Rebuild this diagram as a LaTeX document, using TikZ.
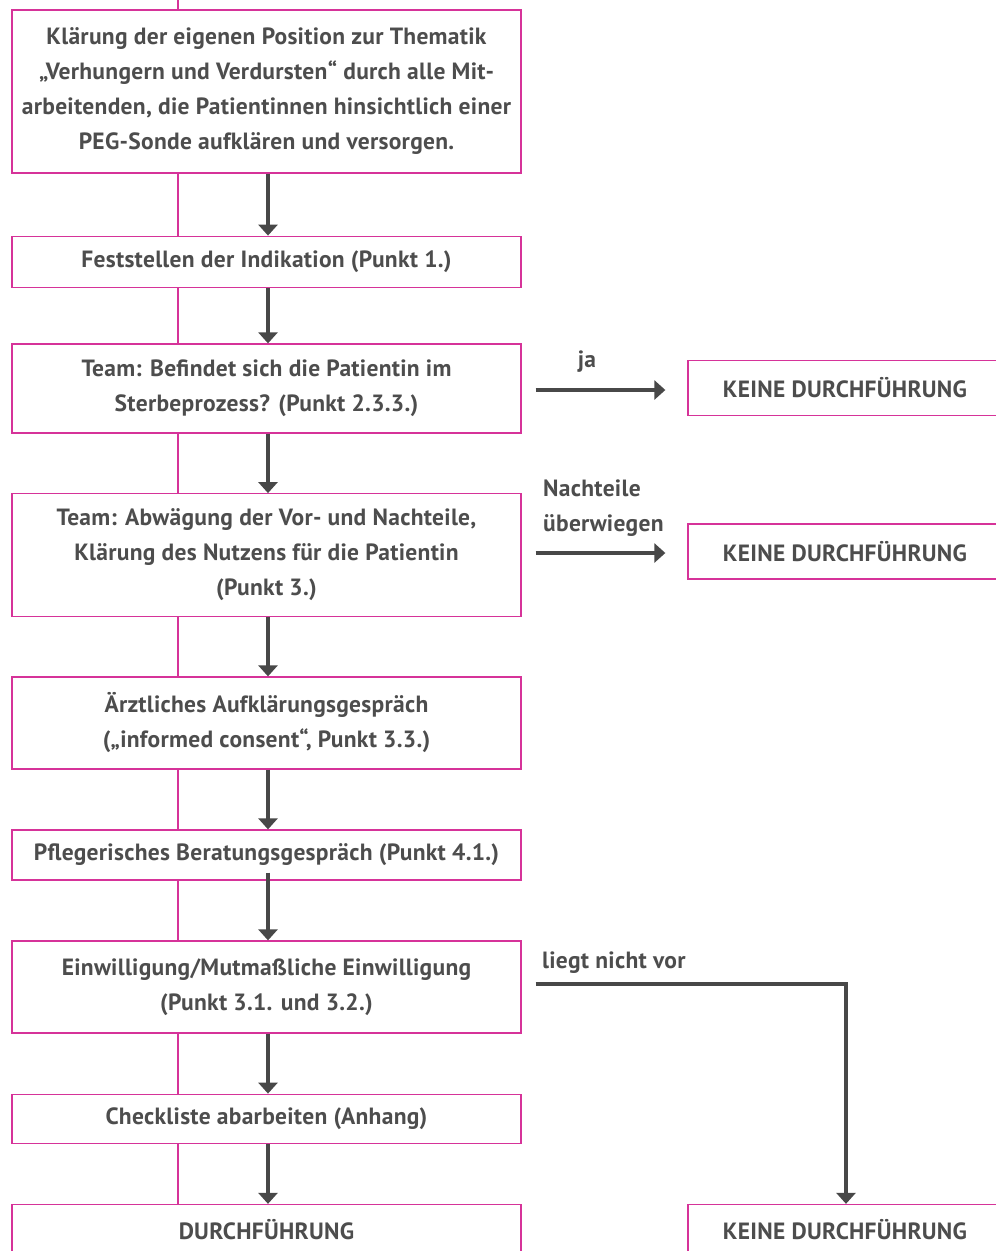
\documentclass[tikz,border=0pt]{standalone}
\usepackage{fontspec}
\setmainfont{PT Sans}[LetterSpace=1.2]
\usetikzlibrary{arrows.meta}
\definecolor{mypink}{RGB}{214,51,153}
\definecolor{txtgrey}{RGB}{77,77,77}
\definecolor{arrgrey}{RGB}{72,72,72}
\tikzset{
  box/.style={draw=mypink, line width=1.3pt, fill=white, minimum width=509pt,
    inner sep=0pt, align=center, text=txtgrey,
    font=\bfseries\fontsize{23.5}{35}\selectfont},
  rbox/.style={box, minimum width=314pt},
  lbl/.style={inner sep=0pt, text=txtgrey, align=left,
    font=\bfseries\fontsize{23.5}{35}\selectfont},
  arr/.style={draw=arrgrey, line width=3.1pt, -{Triangle[width=19pt,length=11pt]}},
  pinkline/.style={draw=mypink, line width=1.3pt}
}
\begin{document}
\begin{tikzpicture}[x=1pt,y=-1pt]
\useasboundingbox (0,0) rectangle (996,1251);
\clip (0,0) rectangle (996,1251);
\fill[white] (0,0) rectangle (996,1251);
\coordinate (top) at (178,-2);
\coordinate (bot) at (178,1210);
\draw[pinkline] (top) -- (bot);

\node[box, minimum height=163pt] (b1) at (266.5,91.5)
  {Klärung der eigenen Position zur Thematik\\
   „Verhungern und Verdursten“ durch alle Mit-\\
   arbeitenden, die Patientinnen hinsichtlich einer\\
   PEG-Sonde aufklären und versorgen.};
\node[box, minimum height=51.5pt] (b2) at (266.5,262) {Feststellen der Indikation (Punkt 1.)};
\node[box, minimum height=89pt] (b3) at (266.5,388.5)
  {Team: Befindet sich die Patientin im\\ Sterbeprozess? (Punkt 2.3.3.)};
\node[box, minimum height=122.5pt] (b4) at (266.5,555)
  {Team: Abwägung der Vor- und Nachteile,\\ Klärung des Nutzens für die Patientin\\ (Punkt 3.)};
\node[box, minimum height=92pt] (b5) at (266.5,723)
  {Ärztliches Aufklärungsgespräch\\ („informed consent“, Punkt 3.3.)};
\node[box, minimum height=50pt] (b6) at (266.5,855) {Pflegerisches Beratungsgespräch (Punkt 4.1.)};
\node[box, minimum height=92pt] (b7) at (266.5,987)
  {Einwilligung/Mutmaßliche Einwilligung\\ (Punkt 3.1. und 3.2.)};
\node[box, minimum height=49.5pt] (b8) at (266.5,1119) {Checkliste abarbeiten (Anhang)};
\node[box, minimum height=50pt] (b9) at (266.5,1229.5) {DURCHFÜHRUNG};

\node[rbox, minimum height=55.5pt] (r1) at (845,388) {KEINE DURCHFÜHRUNG};
\node[rbox, minimum height=55pt] (r2) at (845,551.5) {KEINE DURCHFÜHRUNG};
\node[rbox, minimum height=50pt] (r3) at (845,1229.5) {KEINE DURCHFÜHRUNG};

\draw[arr] ([xshift=1.5pt]b1.south) -- ([xshift=1.5pt]b2.north);
\draw[arr] ([xshift=1.5pt]b2.south) -- ([xshift=1.5pt]b3.north);
\draw[arr] ([xshift=1.5pt]b3.south) -- ([xshift=1.5pt]b4.north);
\draw[arr] ([xshift=1.5pt]b4.south) -- ([xshift=1.5pt]b5.north);
\draw[arr] ([xshift=1.5pt]b5.south) -- ([xshift=1.5pt]b6.north);
\draw[arr] ([xshift=1.5pt,yshift=8pt]b6.south) -- ([xshift=1.5pt]b7.north);
\draw[arr] ([xshift=1.5pt]b7.south) -- ([xshift=1.5pt]b8.north);
\draw[arr] ([xshift=1.5pt]b8.south) -- ([xshift=1.5pt]b9.north);

\draw[arr] ([xshift=14pt,yshift=-1.5pt]b3.east) -- ([xshift=-22pt,yshift=-1.5pt]b3.east -| r1.west);
\draw[arr] ([xshift=14pt,yshift=2pt]b4.east) -- ([xshift=-22pt,yshift=2pt]b4.east -| r2.west);
\draw[arr] ([xshift=14pt,yshift=3pt]b7.east) -| ([xshift=1pt]r3.north);

\node[lbl, anchor=base] (lja) at (587,367) {ja};
\node[lbl, anchor=base west] (lnach) at (543,496.7) {Nachteile};
\node[lbl, anchor=base west] (lueber) at (543,531.7) {überwiegen};
\node[lbl, anchor=base west] (lliegt) at (542,968) {liegt nicht vor};
\end{tikzpicture}
\end{document}
